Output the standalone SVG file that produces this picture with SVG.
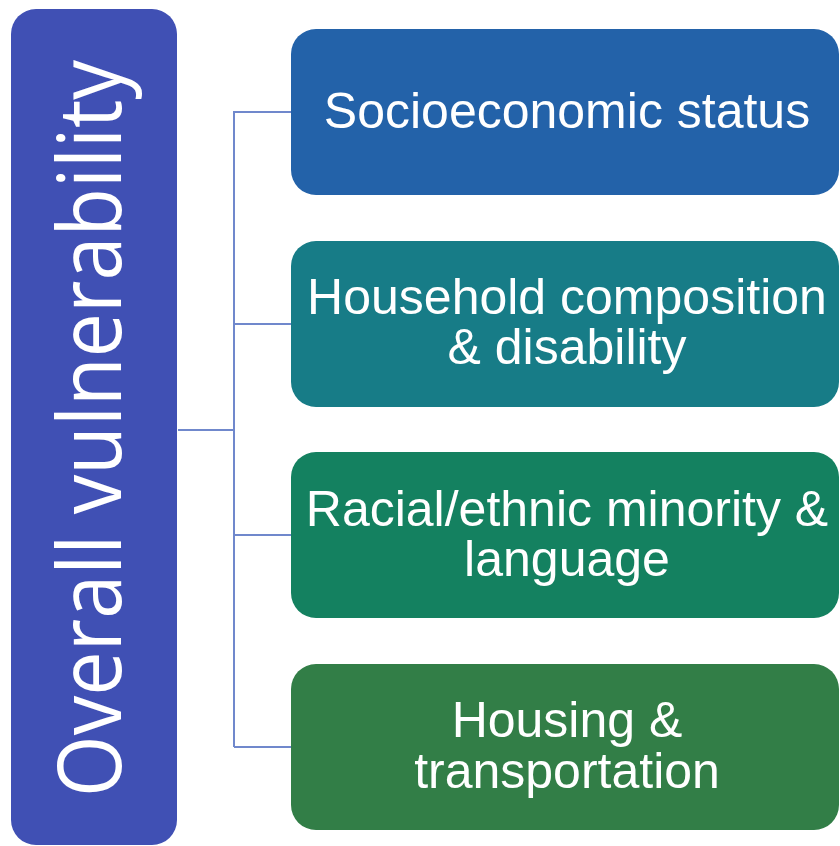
<svg xmlns="http://www.w3.org/2000/svg" width="840" height="846" viewBox="0 0 840 846">
<style>
.lbl{font-family:"Liberation Sans",Arial,sans-serif;font-size:50px;fill:#ffffff;text-anchor:middle}
.main{font-family:"Open Sans","Noto Sans",sans-serif;font-size:88px;fill:#ffffff;text-anchor:middle}
.conn{stroke:#7088cc;stroke-width:2;fill:none}
</style>
<rect width="840" height="846" fill="#ffffff"/>
<g id="connectors">
<path class="conn" d="M178 430 H234 M234 111 V747 M234 112 H291 M234 324 H291 M234 535 H291 M234 747 H291"/>
</g>
<g id="overall">
<rect x="11" y="9" width="166" height="836" rx="25" fill="#4050b4"/>
<text class="main" transform="translate(121,428.5) rotate(-90)" textLength="737" lengthAdjust="spacingAndGlyphs">Overall vulnerability</text>
</g>
<g id="socioeconomic">
<rect x="291" y="29" width="548" height="166" rx="25" fill="#2362a9"/>
<text class="lbl" x="567" y="128">Socioeconomic status</text>
</g>
<g id="household">
<rect x="291" y="241" width="548" height="166" rx="25" fill="#177c87"/>
<text class="lbl" x="567" y="314">Household composition</text>
<text class="lbl" x="567" y="364">&amp; disability</text>
</g>
<g id="racial">
<rect x="291" y="452" width="548" height="166" rx="25" fill="#148160"/>
<text class="lbl" x="567" y="526">Racial/ethnic minority &amp;</text>
<text class="lbl" x="567" y="576">language</text>
</g>
<g id="housing">
<rect x="291" y="664" width="548" height="166" rx="25" fill="#327e47"/>
<text class="lbl" x="567" y="737">Housing &amp;</text>
<text class="lbl" x="567" y="788">transportation</text>
</g>
</svg>
